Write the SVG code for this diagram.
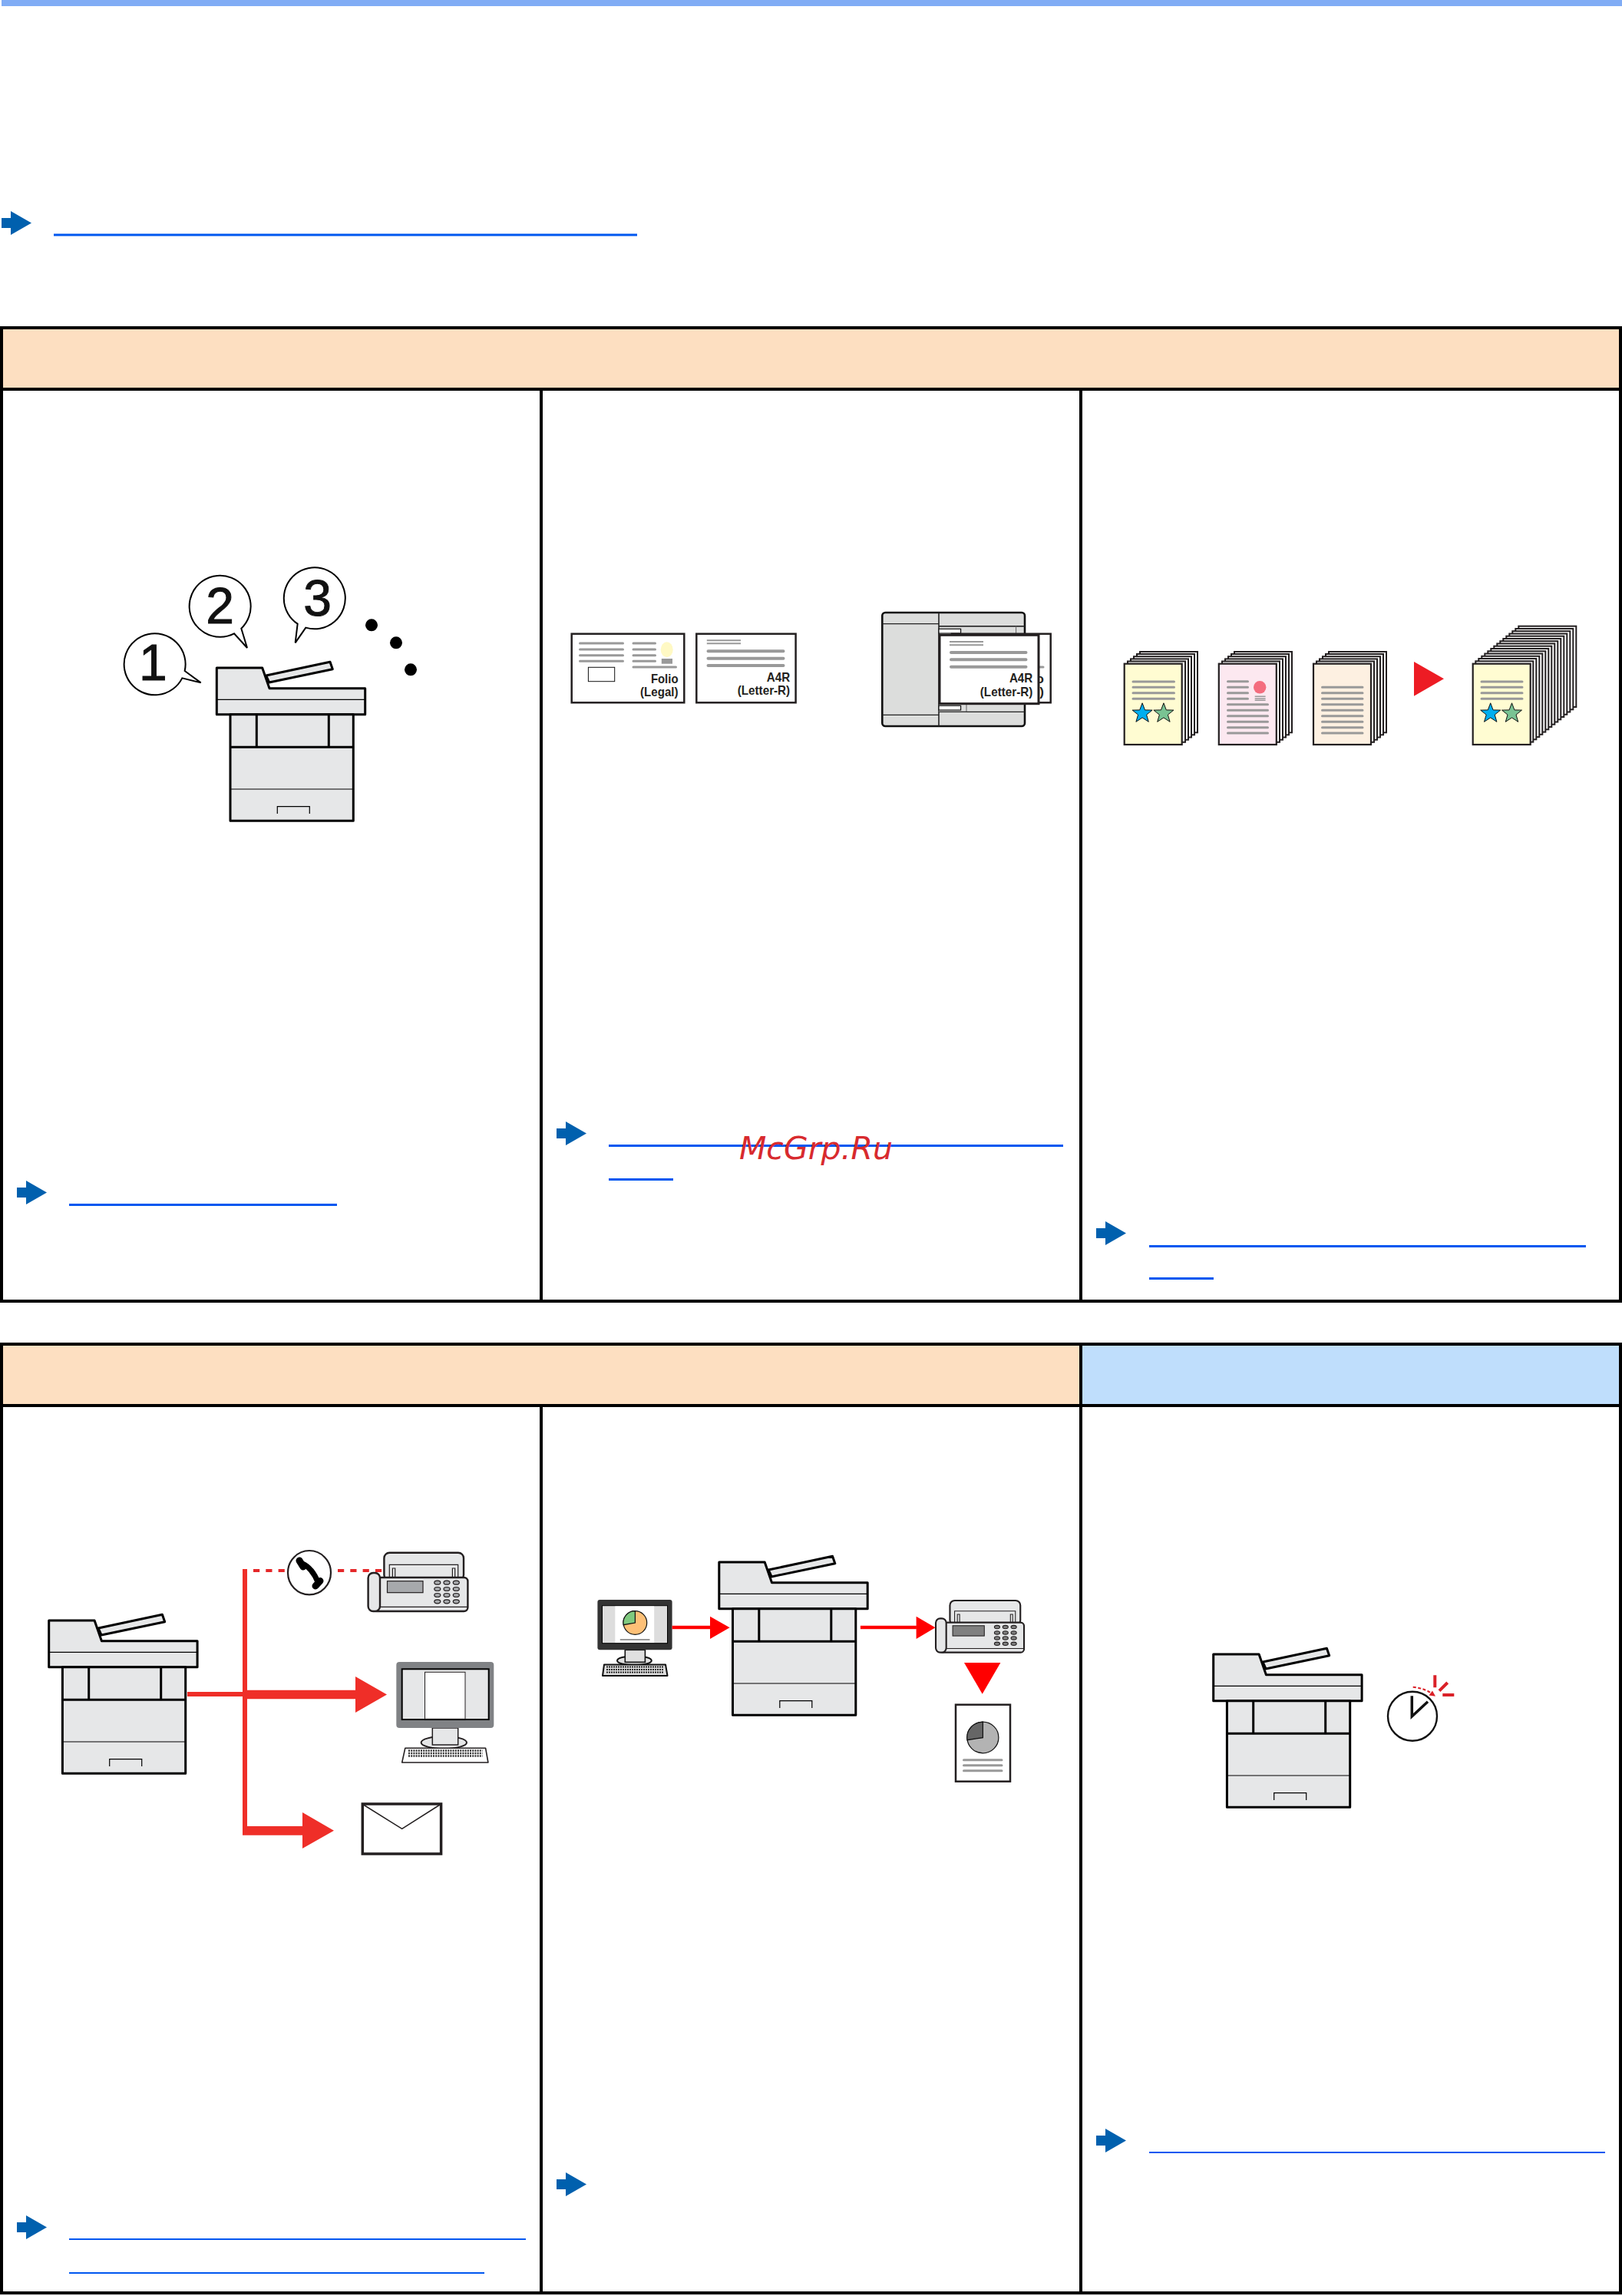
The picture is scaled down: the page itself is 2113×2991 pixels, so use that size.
<svg xmlns="http://www.w3.org/2000/svg" xmlns:xlink="http://www.w3.org/1999/xlink" width="2113" height="2991" viewBox="0 0 2113 2991">
<style>
.hdrO{fill:#FDDFC1}.hdrB{fill:#BFDEFC}
.grid{fill:none;stroke:#000;stroke-width:4}
.link{fill:#0057F0}
.go{fill:#0060AE}
.p{fill:#E6E7E8;stroke:#000;stroke-width:3;stroke-linejoin:round}
.pl{fill:none;stroke:#000;stroke-width:3}
.pt{fill:none;stroke:#000;stroke-width:1.2}
.bub{fill:#fff;stroke:#000;stroke-width:6}
.num{font-family:"Liberation Sans",Arial,sans-serif;font-size:198px;text-anchor:middle;fill:#111;stroke:#111;stroke-width:3}
.lab{font-family:"Liberation Sans",Arial,sans-serif;font-weight:bold;font-size:17px;text-anchor:end;fill:#231F20}
.doc{fill:#fff;stroke:#231F20;stroke-width:2.5}
.g4{stroke:#999;stroke-width:4;stroke-linecap:round;fill:none}
.g3{stroke:#999;stroke-width:3;stroke-linecap:round;fill:none}
.g2{stroke:#999;stroke-width:2;fill:none}
.sh{fill:#fff;stroke:#231F20;stroke-width:2}
.fr{stroke:#231F20;stroke-width:2.2}
.st{stroke:#111;stroke-width:1}
.red1{fill:#EF2E28}.red2{fill:#FF0000}
.f{fill:#E6E7E8;stroke:#231F20;stroke-width:2.4}
.fk{fill:var(--scr,#A7A9AC);stroke:#231F20;stroke-width:1.2}
.ft{fill:none;stroke:#231F20;stroke-width:1.2}
</style>
<defs>
<g id="printer">
<polygon class="p" points="226.7,180 310,162.3 313.3,171.7 230.7,189"/>
<polygon class="p" points="162.3,170 221.7,170 231,196.7 355.7,196.7 355.7,230.7 162.3,230.7"/>
<line class="pt" x1="162.3" y1="211.3" x2="355.7" y2="211.3"/>
<rect class="p" x="180" y="230.7" width="160.3" height="138.6"/>
<path class="pl" d="M214.3 230.7V273.3M308.3 230.7V273.3M180 273.3H340.3"/>
<path class="pt" d="M180 328H340.3M241.3 360V350.7H283.3V360"/>
</g>
<g id="fax">
<rect class="f" x="500.4" y="2022.7" width="103.6" height="36" rx="7"/>
<path class="ft" d="M507.3 2055V2038.3H596.7V2055"/>
<path class="ft" d="M511.4 2055V2043H514.7V2055M589.4 2055V2043H592.7V2055"/>
<rect class="f" x="484.9" y="2055" width="124.5" height="44" rx="5"/>
<line class="ft" x1="495" y1="2093.3" x2="609" y2="2093.3"/>
<rect class="f" x="479.6" y="2049" width="15.4" height="50" rx="6.5"/>
<rect class="fk" x="504.5" y="2059.7" width="46.5" height="15"/>
<g class="fk">
<ellipse cx="569.8" cy="2061.7" rx="4" ry="2.5"/><ellipse cx="582" cy="2061.7" rx="4" ry="2.5"/><ellipse cx="594.3" cy="2061.7" rx="4" ry="2.5"/>
<ellipse cx="569.8" cy="2070" rx="4" ry="2.5"/><ellipse cx="582" cy="2070" rx="4" ry="2.5"/><ellipse cx="594.3" cy="2070" rx="4" ry="2.5"/>
<ellipse cx="569.8" cy="2078" rx="4" ry="2.5"/><ellipse cx="582" cy="2078" rx="4" ry="2.5"/><ellipse cx="594.3" cy="2078" rx="4" ry="2.5"/>
<ellipse cx="569.8" cy="2086.3" rx="4" ry="2.5"/><ellipse cx="582" cy="2086.3" rx="4" ry="2.5"/><ellipse cx="594.3" cy="2086.3" rx="4" ry="2.5"/>
</g>
</g>
<polygon id="goArrow" class="go" points="0,9 12,9 12,0 39,15.5 12,31 12,22 0,22"/>
<polygon id="star" points="0,-13.5 3.4,-4.4 13,-4.2 5.5,1.8 8.2,11 0,5.6 -8.2,11 -5.5,1.8 -13,-4.2 -3.4,-4.4"/>
<rect id="sheet" class="sh" x="0" y="0" width="75" height="105.3"/>
</defs>

<g id="top-bar"><rect x="2" y="0" width="2111" height="8" fill="#80ACF5"/></g>

<g id="intro-link">
<use href="#goArrow" x="2" y="275"/>
<rect class="link" x="70" y="304.5" width="760" height="3"/>
</g>

<g id="table-1">
<rect class="hdrO" x="2" y="427" width="2109" height="80"/>
<rect class="grid" x="2" y="427" width="2109" height="1268"/>
<path class="grid" d="M2 507H2111M705 507V1695M1408 507V1695"/>
</g>

<g id="table-2">
<rect class="hdrO" x="2" y="1751" width="1406" height="80"/>
<rect class="hdrB" x="1408" y="1751" width="703" height="80"/>
<rect class="grid" x="2" y="1751" width="2109" height="1236"/>
<path class="grid" d="M2 1831H2111M705 1831V2987M1408 1751V2987"/>
</g>

<g id="node-sequence">
<g transform="translate(120,700) scale(0.33333)">
<path class="bub" d="M362 522L425 568L352 550A120 120 0 1 1 362 522Z"/>
<path class="bub" d="M583 356L606 432L555 376A120 120 0 1 1 583 356Z"/>
<path class="bub" d="M835 353L794 412L803 338A120 120 0 1 1 835 353Z"/>
<text class="num" x="238" y="558">1</text>
<text class="num" x="500" y="336">2</text>
<text class="num" x="881" y="305">3</text>
<circle cx="1092" cy="343" r="24"/><circle cx="1188" cy="412" r="24"/><circle cx="1245" cy="517" r="24"/>
</g>
<use href="#printer" transform="translate(120,700)"/>
</g>

<g id="node-mixed-originals">
<rect class="doc" x="744.7" y="825.7" width="146.6" height="89.6"/>
<path class="g3" d="M755.5 838H811.5M755.5 846H811.5M755.5 853.7H811.5M755.5 861.3H811.5M825 838H853.5M825 846H853.5M825 853.7H853.5M825 861.3H853.5M825 869H880.5"/>
<ellipse cx="868.7" cy="846.3" rx="8" ry="10" fill="#FFF9C4"/>
<rect x="861.8" y="858" width="14.2" height="6.7" fill="#999"/>
<rect x="766.4" y="869.3" width="34.3" height="18.4" fill="#fff" stroke="#111" stroke-width="1"/>
<text class="lab" x="883.5" y="890" textLength="35.6" lengthAdjust="spacingAndGlyphs">Folio</text>
<text class="lab" x="883.5" y="907.3" textLength="49.4" lengthAdjust="spacingAndGlyphs">(Legal)</text>
<rect class="doc" x="907.3" y="825.7" width="129.3" height="89.6"/>
<path class="g2" d="M920.8 834.3H965M920.8 838.3H965"/>
<path class="g4" d="M922.5 848.3H1020.5M922.5 857.7H1020.5M922.5 867H1020.5"/>
<text class="lab" x="1029.2" y="887.7" textLength="30.4" lengthAdjust="spacingAndGlyphs">A4R</text>
<text class="lab" x="1029.2" y="905" textLength="68.5" lengthAdjust="spacingAndGlyphs">(Letter-R)</text>
</g>

<g id="node-feeder">
<rect x="1149.3" y="798" width="185.7" height="148" rx="4" fill="#DCDDDC" stroke="#111" stroke-width="2.6"/>
<path d="M1223 798V946" stroke="#222" stroke-width="1.6" fill="none"/>
<path d="M1149.3 812.7H1223M1149.3 931.3H1223M1223 815.7H1335M1223 927.3H1335" stroke="#222" stroke-width="1.2" fill="none"/>
<rect x="1223" y="916" width="36" height="11" fill="#DCDDDC" stroke="#444" stroke-width="0.8"/>
<path d="M1223 815.7H1335" stroke="#222" stroke-width="1.6"/>
<rect x="1223" y="819.3" width="28.6" height="5.7" fill="#fff" stroke="#111" stroke-width="1.2"/>
<rect x="1223" y="919.3" width="28.6" height="5.7" fill="#fff" stroke="#111" stroke-width="1.2"/>
<path d="M1323.6 815.7V826" stroke="#666" stroke-width="1"/>
<rect class="doc" x="1240" y="825.7" width="128.7" height="89.6"/>
<path class="g3" d="M1345 869H1359"/>
<text class="lab" x="1360" y="890">o</text>
<text class="lab" x="1360" y="907.3">l)</text>
<rect x="1224" y="827.3" width="129" height="89.4" fill="#fff" stroke="#231F20" stroke-width="3"/>
<path class="g2" d="M1237 836H1281M1237 840.3H1281"/>
<path class="g4" d="M1239 850H1336.5M1239 859.3H1336.5M1239 868.7H1336.5"/>
<text class="lab" x="1345.3" y="889.3" textLength="30.4" lengthAdjust="spacingAndGlyphs">A4R</text>
<text class="lab" x="1345.3" y="906.7" textLength="68.5" lengthAdjust="spacingAndGlyphs">(Letter-R)</text>
</g>

<g id="node-stack-1">
<use href="#sheet" transform="translate(1485,849)"/><use href="#sheet" transform="translate(1481,852)"/><use href="#sheet" transform="translate(1477,855.2)"/><use href="#sheet" transform="translate(1473,858.4)"/><use href="#sheet" transform="translate(1469,861.5)"/>
<rect class="fr" x="1464.7" y="864.7" width="75" height="105.3" fill="#FFFCD2"/>
<path class="g3" d="M1476 888H1529.5M1476 895.3H1529.5M1476 902.7H1529.5M1476 910.3H1529.5"/>
<use href="#star" class="st" fill="#00AEEF" x="1488.1" y="929.3"/>
<use href="#star" class="st" fill="#79C393" x="1515.9" y="929.3"/>
</g>
<g id="node-stack-2">
<use href="#sheet" transform="translate(1608,849)"/><use href="#sheet" transform="translate(1604,852)"/><use href="#sheet" transform="translate(1600,855.2)"/><use href="#sheet" transform="translate(1596,858.4)"/><use href="#sheet" transform="translate(1592,861.5)"/>
<rect class="fr" x="1587.8" y="864.7" width="75" height="105.3" fill="#FCE8F0"/>
<path class="g3" d="M1599.5 887.7H1625.5M1599.5 895.3H1625.5M1599.5 902.7H1625.5M1599.5 910.3H1625.5M1599.5 917.7H1651.5M1599.5 925.3H1651.5M1599.5 932.7H1651.5M1599.5 940.3H1651.5M1599.5 947.7H1651.5M1599.5 955H1651.5"/>
<ellipse cx="1641.2" cy="895.3" rx="8.2" ry="8.3" fill="#F46C7E"/>
<path d="M1634.7 907.3H1648.6M1634.7 910H1648.6M1634.7 912.3H1648.6" stroke="#999" stroke-width="1.5"/>
</g>
<g id="node-stack-3">
<use href="#sheet" transform="translate(1731,849)"/><use href="#sheet" transform="translate(1727,852)"/><use href="#sheet" transform="translate(1723,855.2)"/><use href="#sheet" transform="translate(1719,858.4)"/><use href="#sheet" transform="translate(1715,861.5)"/>
<rect class="fr" x="1711" y="864.7" width="75" height="105.3" fill="#FDF0E1"/>
<path class="g3" d="M1722.5 895.3H1775M1722.5 902.7H1775M1722.5 910.3H1775M1722.5 917.7H1775M1722.5 925.3H1775M1722.5 932.7H1775M1722.5 940.3H1775M1722.5 947.7H1775M1722.5 955H1775"/>
</g>
<g id="node-stack-merged">
<use href="#sheet" transform="translate(1978.3,815.7)"/><use href="#sheet" transform="translate(1974.3,819)"/><use href="#sheet" transform="translate(1970.3,822.2)"/><use href="#sheet" transform="translate(1966.3,825.5)"/><use href="#sheet" transform="translate(1962.3,828.7)"/><use href="#sheet" transform="translate(1958.3,832)"/><use href="#sheet" transform="translate(1954.3,835.2)"/><use href="#sheet" transform="translate(1950.3,838.4)"/><use href="#sheet" transform="translate(1946.3,841.7)"/><use href="#sheet" transform="translate(1942.3,845)"/><use href="#sheet" transform="translate(1938.3,848.3)"/><use href="#sheet" transform="translate(1934.3,851.5)"/><use href="#sheet" transform="translate(1930.3,854.8)"/><use href="#sheet" transform="translate(1926.3,858)"/><use href="#sheet" transform="translate(1922.3,861.3)"/>
<rect class="fr" x="1918.7" y="864.7" width="75" height="105.3" fill="#FFFCD2"/>
<path class="g3" d="M1930 888H1983M1930 895.3H1983M1930 902.7H1983M1930 910.3H1983"/>
<use href="#star" class="st" fill="#00AEEF" x="1941.7" y="929.3"/>
<use href="#star" class="st" fill="#79C393" x="1969.5" y="929.3"/>
</g>

<g id="node-printer-send"><use href="#printer" transform="translate(-98.6,1941)"/></g>
<g id="node-fax-phone"><use href="#fax"/></g>
<g id="node-phone">
<ellipse cx="403" cy="2048.7" rx="28" ry="28.7" fill="#fff" stroke="#231F20" stroke-width="2.2"/>
<path d="M394 2037Q407 2043 414 2061" fill="none" stroke="#000" stroke-width="7"/>
<path d="M390 2033L395 2041M411 2066L417 2059.5" fill="none" stroke="#000" stroke-width="9" stroke-linecap="round"/>
</g>
<g id="node-pc-send">
<ellipse cx="578.3" cy="2270" rx="29.7" ry="8" fill="#E6E7E8" stroke="#231F20" stroke-width="2"/>
<rect x="563.3" y="2251" width="33.4" height="22" fill="#E6E7E8" stroke="#231F20" stroke-width="1.5"/>
<rect x="516.3" y="2165" width="127" height="86" rx="4" fill="#808285"/>
<rect x="523.7" y="2174.3" width="113" height="65.7" fill="#E6E7E8" stroke="#000" stroke-width="2"/>
<rect x="553.5" y="2178.3" width="52.5" height="61" fill="#fff" stroke="#231F20" stroke-width="1"/>
<polygon points="527.8,2277.3 632.6,2277.3 635.9,2296 523.7,2296" fill="#fff" stroke="#231F20" stroke-width="1.6" stroke-linejoin="round"/>
<path d="M532 2280.5H628.5M532 2284H628.5M532 2287.5H628.5" stroke="#333" stroke-width="2.4" stroke-dasharray="2 1.2" fill="none"/>
</g>
<g id="node-envelope">
<rect x="472.3" y="2350" width="102.3" height="65" fill="#fff" stroke="#231F20" stroke-width="3.5"/>
<path d="M471.8 2350L523.7 2382.3L574.7 2350" fill="none" stroke="#231F20" stroke-width="1.5"/>
</g>

<g id="node-pc-fax">
<ellipse cx="826.4" cy="2163.3" rx="22.4" ry="6" fill="#E0E0E0" stroke="#111" stroke-width="2"/>
<rect x="814.3" y="2149.3" width="26.1" height="16" fill="#E0E0E0" stroke="#111" stroke-width="1.6"/>
<rect x="778.4" y="2084" width="97.2" height="65.3" rx="3" fill="#333"/>
<rect x="784.5" y="2091.7" width="85" height="49" fill="#DDD" stroke="#000" stroke-width="1"/>
<rect x="801.3" y="2092.5" width="50.9" height="47.5" fill="#fff"/>
<ellipse cx="827.4" cy="2114" rx="15.3" ry="15.3" fill="#FDC077" stroke="#111" stroke-width="1.2"/>
<path d="M827.4 2114V2098.7A15.3 15.3 0 0 0 812.1 2116.7Z" fill="#7FC97F" stroke="#111" stroke-width="1.2"/>
<line class="g2" x1="807.8" y1="2136" x2="846.5" y2="2136"/>
<polygon points="787,2168.5 867,2168.5 869.5,2183 785,2183" fill="#DDD" stroke="#111" stroke-width="2" stroke-linejoin="round"/>
<path d="M790 2171.5H865M790 2175H865M790 2178.5H865" stroke="#222" stroke-width="2.2" stroke-dasharray="2 1" fill="none"/>
</g>
<g id="node-printer-fax"><use href="#printer" transform="translate(774.5,1865)"/></g>
<g id="node-fax-out"><use href="#fax" transform="translate(794.1,292.9) scale(0.886)" style="--scr:#808080"/></g>
<g id="node-fax-print">
<rect class="doc" x="1245" y="2220.7" width="71" height="100"/>
<ellipse cx="1280.4" cy="2263.5" rx="20.5" ry="20.3" fill="#B3B3B3" stroke="#111" stroke-width="1.2"/>
<path d="M1280.4 2263.7V2243.2A20.5 20.3 0 0 0 1260 2266.7Z" fill="#666" stroke="#111" stroke-width="1.2"/>
<path class="g3" d="M1255.5 2292.7H1305M1255.5 2299.7H1305M1255.5 2306.7H1305"/>
</g>

<g id="node-printer-timer"><use href="#printer" transform="translate(1418.4,1985)"/></g>
<g id="node-clock">
<circle cx="1840" cy="2235.7" r="32" fill="#fff" stroke="#111" stroke-width="2.4"/>
<path d="M1839.3 2209.3V2236L1860 2216.7" fill="none" stroke="#111" stroke-width="3.5"/>
<path d="M1840.7 2197.7Q1855 2199 1866 2206.5" fill="none" stroke="#DA2128" stroke-width="2" stroke-dasharray="4 2.5"/>
<polygon points="1870,2209.8 1861.5,2208.5 1866,2202.5" fill="#DA2128"/>
<path d="M1869.3 2182.3V2198.3M1885.7 2192L1875 2202.7M1879.3 2208H1894.3" fill="none" stroke="#DA2128" stroke-width="4"/>
</g>

<g id="connectors">
<rect class="red1" x="244" y="2204" width="72" height="6"/>
<polygon class="red1" points="316,2044 322,2044 322,2201.7 463,2201.7 463,2184 504,2207.6 463,2231 463,2213.3 322,2213.3 322,2379 394,2379 394,2361 435,2384.7 394,2408 394,2390.7 316,2390.7"/>
<path d="M322 2046H374M432 2046H500" fill="none" stroke="#E5282A" stroke-width="4" stroke-dasharray="8.2 8.1" stroke-dashoffset="-8"/>
<rect class="red2" x="875.6" y="2117.8" width="50" height="4.4"/>
<polygon class="red2" points="925,2105.7 950.6,2120.3 925,2135"/>
<rect class="red2" x="1120.9" y="2117.8" width="73" height="4.4"/>
<polygon class="red2" points="1193.6,2105.7 1218.5,2120.3 1193.6,2135"/>
<polygon class="red2" points="1256,2166 1303.4,2166 1279.7,2206.7"/>
<polygon fill="#ED1C24" points="1842,862 1881,884.3 1842,906.7"/>
</g>

<g id="ref-links">
<use href="#goArrow" x="22" y="1538"/>
<rect class="link" x="90" y="1568" width="349" height="3"/>
<use href="#goArrow" x="725" y="1461"/>
<rect class="link" x="793" y="1491" width="592" height="3"/>
<rect class="link" x="793" y="1535" width="84" height="3"/>
<use href="#goArrow" x="1428" y="1591"/>
<rect class="link" x="1497" y="1622" width="569" height="3"/>
<rect class="link" x="1497" y="1664" width="84" height="3"/>
<use href="#goArrow" x="22" y="2886"/>
<rect class="link" x="90" y="2916" width="595" height="2"/>
<rect class="link" x="90" y="2960" width="541" height="2"/>
<use href="#goArrow" x="725" y="2830"/>
<use href="#goArrow" x="1428" y="2773"/>
<rect class="link" x="1497" y="2803" width="594" height="2"/>
</g>

<text id="watermark" x="963" y="1510" font-family="'DejaVu Sans',sans-serif" font-style="oblique" font-size="41" fill="#D82A2E">McGrp.Ru</text>
</svg>
